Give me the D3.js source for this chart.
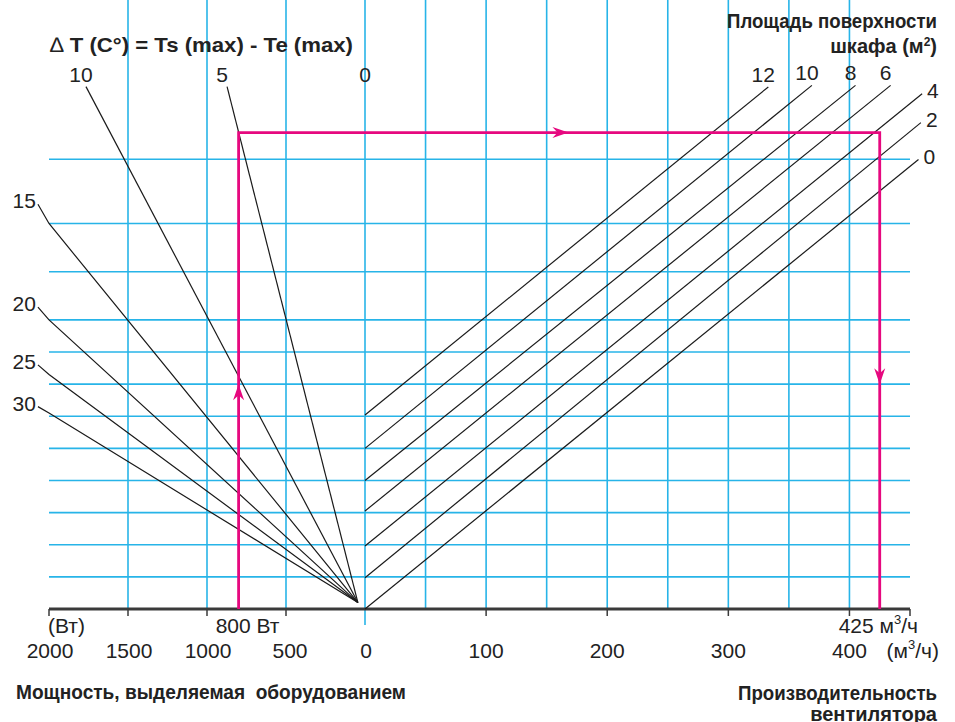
<!DOCTYPE html>
<html>
<head>
<meta charset="utf-8">
<script src="https://cdn.jsdelivr.net/npm/d3@7"></script>
<style>
body { margin: 0; background: #fff; }
text { font-family: "Liberation Sans", Arial, Helvetica, sans-serif; fill: #222; }
</style>
</head>
<body>
<script>
// axis values
var powerTicks = [2000, 1500, 1000, 500, 0];
var powerGrid = [1500, 1000, 500];
var flowTicks = [0, 100, 200, 300, 400];
var flowGrid = [50, 100, 150, 200, 250, 300, 350, 400];
var levelGrid = [1, 2, 3, 4, 5, 6, 7, 8, 9, 10.5, 12, 14];

// delta T lines (left fan): point on the frame, then leader end at the label
var dtNames = [10, 5, 15, 20, 25, 30];
var dtEdgePower = [1766, 873, 2000, 2000, 2000, 2000];
var dtEdgeLevel = [16.26, 16.26, 12.0, 9.0, 7.3, 6.1];
var dtLabelPower = [1766, 873, 2070, 2070, 2070, 2070];
var dtLabelLevel = [16.26, 16.26, 12.6, 9.4, 7.6, 6.3];
var fanOrigin = [45, 0.2];

// cabinet surface area lines (right)
var areaNames = [12, 10, 8, 6, 4, 2, 0];
var areaStartLevel = [6.04, 5.0, 4.0, 3.05, 1.96, 0.97, 0];
var areaEndFlow = [333, 369, 405, 434, 460, 459, 457];
var areaEndLevel = [16.25, 16.3, 16.3, 16.3, 16.04, 15.14, 13.99];

// worked example
var examplePower = 800;
var exampleFlow = 425;
var exampleLevel = 14.83;
var arrowUpLevel = 7.0, arrowRightFlow = 168, arrowDownLevel = 7.0;

var W = 955, H = 722;
var blue = "#27b4e8", magenta = "#e6087f", frame = "#3a3a3a";

var svg = d3.select("body").append("svg").attr("width", W).attr("height", H);

var xPow = d3.scaleLinear().domain([0, 2000]).range([365, 49]);
var xFlow = d3.scaleLinear().domain([0, 450]).range([365, 910]);
var y = d3.scaleLinear().domain([0, 16]).range([609, 95]);

var left = xPow(2000), right = xFlow(450), top = y(16), bottom = y(0);

// grid
var grid = svg.append("g").attr("stroke", blue).attr("stroke-width", 1.6);
grid.selectAll(".hg").data(levelGrid).enter().append("line")
  .attr("x1", left).attr("x2", right)
  .attr("y1", function(d) { return y(d); }).attr("y2", function(d) { return y(d); });
grid.selectAll(".vp").data(powerGrid).enter().append("line")
  .attr("x1", function(d) { return xPow(d); }).attr("x2", function(d) { return xPow(d); })
  .attr("y1", top).attr("y2", bottom);
grid.selectAll(".vf").data(flowGrid).enter().append("line")
  .attr("x1", function(d) { return xFlow(d); }).attr("x2", function(d) { return xFlow(d); })
  .attr("y1", top).attr("y2", bottom);
// zero line sticks out above and below
grid.append("line").attr("x1", xPow(0)).attr("x2", xPow(0)).attr("y1", top - 11).attr("y2", bottom + 16);

// frame
var fr = svg.append("g").attr("stroke", frame).attr("fill", "none");
fr.append("path").attr("stroke-width", 1.5)
  .attr("d", "M" + left + "," + bottom + "V" + top + "H" + right + "V" + bottom);
fr.append("line").attr("stroke-width", 3.2)
  .attr("x1", left).attr("x2", right).attr("y1", bottom).attr("y2", bottom);

// bottom ticks
var tickX = powerTicks.filter(function(d) { return d > 0; }).map(function(d) { return xPow(d); })
  .concat(flowTicks.filter(function(d) { return d > 0; }).map(function(d) { return xFlow(d); }))
  .concat([right]);
fr.selectAll(".tk").data(tickX).enter().append("line").attr("stroke-width", 1.5)
  .attr("x1", function(d) { return d; }).attr("x2", function(d) { return d; })
  .attr("y1", bottom).attr("y2", bottom + 7);

// delta T fan
var lines = svg.append("g").attr("stroke", "#1a1a1a").attr("stroke-width", 1.2).attr("fill", "none");
dtNames.forEach(function(n, i) {
  var p = d3.path();
  p.moveTo(xPow(fanOrigin[0]), y(fanOrigin[1]));
  p.lineTo(xPow(dtEdgePower[i]), y(dtEdgeLevel[i]));
  p.lineTo(xPow(dtLabelPower[i]), y(dtLabelLevel[i]));
  lines.append("path").attr("d", p.toString());
});

// surface area lines
areaNames.forEach(function(n, i) {
  lines.append("line")
    .attr("x1", xFlow(0)).attr("y1", y(areaStartLevel[i]))
    .attr("x2", xFlow(areaEndFlow[i])).attr("y2", y(areaEndLevel[i]));
});

// example path
var ex = svg.append("g");
ex.append("path").attr("fill", "none").attr("stroke", magenta).attr("stroke-width", 2.8)
  .attr("d", "M" + xPow(examplePower) + "," + bottom + "V" + y(exampleLevel) +
             "H" + xFlow(exampleFlow) + "V" + bottom);

function arrow(tx, ty, dir) {
  // dir: direction the arrow points to
  var L = 16, w = 5.5, notch = 11;
  var ux = dir[0], uy = dir[1], px = -uy, py = ux;
  var p = d3.path();
  p.moveTo(tx, ty);
  p.lineTo(tx - ux * L + px * w, ty - uy * L + py * w);
  p.lineTo(tx - ux * notch, ty - uy * notch);
  p.lineTo(tx - ux * L - px * w, ty - uy * L - py * w);
  p.closePath();
  ex.append("path").attr("d", p.toString()).attr("fill", magenta);
}
arrow(xPow(examplePower), y(arrowUpLevel), [0, -1]);
arrow(xFlow(arrowRightFlow), y(exampleLevel), [1, 0]);
arrow(xFlow(exampleFlow), y(arrowDownLevel), [0, 1]);

// labels
var lab = svg.append("g").attr("font-size", 21);
dtNames.forEach(function(n, i) {
  var ex_ = xPow(dtLabelPower[i]), ey = y(dtLabelLevel[i]);
  if (i < 2) {
    lab.append("text").attr("x", ex_ - 5).attr("y", ey - 5).attr("text-anchor", "middle").text(n);
  } else {
    lab.append("text").attr("x", ex_ - 2).attr("y", ey + 4).attr("text-anchor", "end").text(n);
  }
});
lab.append("text").attr("x", xPow(0)).attr("y", 82).attr("text-anchor", "middle").text("0");

areaNames.forEach(function(n, i) {
  var ex_ = xFlow(areaEndFlow[i]), ey = y(areaEndLevel[i]);
  if (i < 4) {
    lab.append("text").attr("x", ex_ - 5).attr("y", ey - 5).attr("text-anchor", "middle").text(n);
  } else {
    lab.append("text").attr("x", ex_ + 5).attr("y", ey + 4).text(n);
  }
});

// bottom numbers
lab.selectAll(".pt").data(powerTicks).enter().append("text")
  .attr("x", function(d) { return xPow(d) + (d === 500 ? 4 : 1); }).attr("y", 658).attr("text-anchor", "middle")
  .text(function(d) { return d; });
lab.selectAll(".ft").data(flowTicks.filter(function(d) { return d > 0; })).enter().append("text")
  .attr("x", function(d) { return xFlow(d); }).attr("y", 658).attr("text-anchor", "middle")
  .text(function(d) { return d; });

lab.append("text").attr("x", left - 1).attr("y", 633).text("(Вт)");
lab.append("text").attr("x", xPow(examplePower) + 9).attr("y", 633).attr("text-anchor", "middle")
  .text(examplePower + " Вт");

var t425 = lab.append("text").attr("x", 918).attr("y", 633).attr("text-anchor", "end");
t425.append("tspan").text(exampleFlow + " м");
t425.append("tspan").attr("dy", -9).attr("font-size", 13).text("3");
t425.append("tspan").attr("dy", 9).text("/ч");

var tu = lab.append("text").attr("x", 939).attr("y", 658).attr("text-anchor", "end");
tu.append("tspan").text("(м");
tu.append("tspan").attr("dy", -9).attr("font-size", 13).text("3");
tu.append("tspan").attr("dy", 9).text("/ч)");

// titles
var ttl = svg.append("g").attr("font-weight", "bold");
var dt = ttl.append("text").attr("x", 50).attr("y", 52).attr("font-size", 21)
  .attr("textLength", 303).attr("lengthAdjust", "spacingAndGlyphs");
dt.append("tspan").attr("font-weight", "normal").text("∆");
dt.append("tspan").text(" T (C°) = Ts (max) - Te (max)");

ttl.append("text").attr("x", 727).attr("y", 28).attr("font-size", 20)
  .attr("textLength", 210).attr("lengthAdjust", "spacingAndGlyphs")
  .text("Площадь поверхности");
var sq = ttl.append("text").attr("x", 937).attr("y", 53).attr("font-size", 20).attr("text-anchor", "end");
sq.append("tspan").text("шкафа (м");
sq.append("tspan").attr("dy", -7).attr("font-size", 12).text("2");
sq.append("tspan").attr("dy", 7).text(")");

ttl.append("text").attr("x", 16).attr("y", 699).attr("font-size", 21)
  .attr("textLength", 390).attr("lengthAdjust", "spacingAndGlyphs")
  .style("white-space", "pre")
  .text("Мощность, выделяемая  оборудованием");
ttl.append("text").attr("x", 738).attr("y", 700).attr("font-size", 21)
  .attr("textLength", 199).attr("lengthAdjust", "spacingAndGlyphs")
  .text("Производительность");
ttl.append("text").attr("x", 937).attr("y", 721).attr("font-size", 20).attr("text-anchor", "end")
  .text("вентилятора");
</script>
</body>
</html>
